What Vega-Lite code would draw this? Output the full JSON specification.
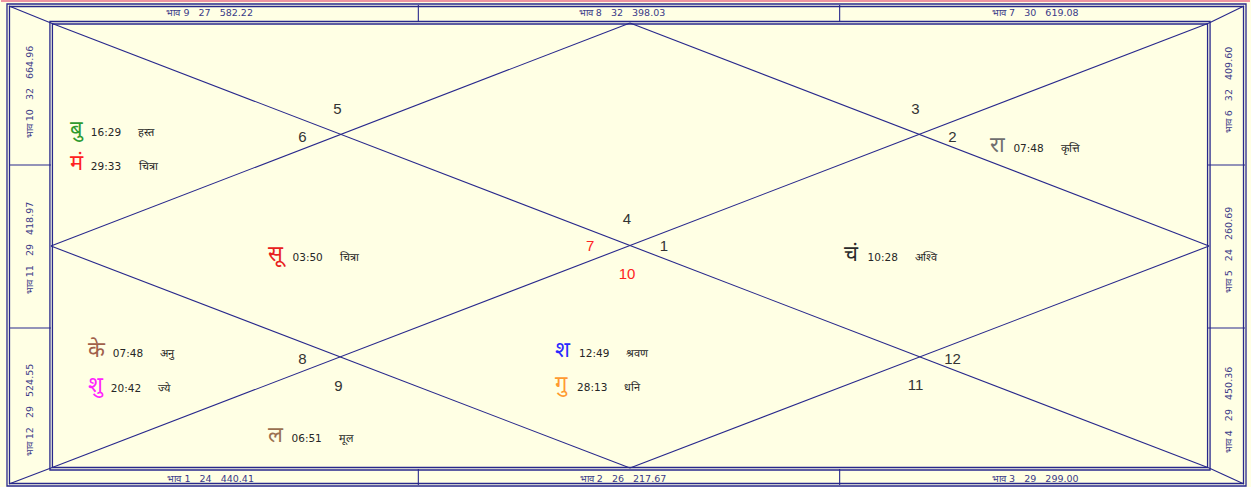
{
  "$schema": "https://vega.github.io/schema/vega-lite/v6.json",
  "width": 1251,
  "height": 487,
  "padding": 0,
  "autosize": {"type": "fit", "contains": "padding"},
  "background": "#FFFFE4",
  "config": {"view": {"stroke": null}, "axis": null},
  "datasets": {
    "frame": [
      {"x": 6, "y": 4, "x2": 1247, "y2": 486},
      {"x": 8.5, "y": 6.5, "x2": 1244.5, "y2": 483.5},
      {"x": 49, "y": 21.5, "x2": 1211, "y2": 470},
      {"x": 51.5, "y": 24, "x2": 1208.5, "y2": 467.5}
    ],
    "topline": [{"x": 0, "y": 1, "x2": 1251, "y2": 1}],
    "segs": [
      {"x": 8, "y": 6, "x2": 50, "y2": 23},
      {"x": 50, "y": 23, "x2": 1210, "y2": 468},
      {"x": 1210, "y": 468, "x2": 1245, "y2": 484},
      {"x": 1245, "y": 6, "x2": 1210, "y2": 23},
      {"x": 1210, "y": 23, "x2": 50, "y2": 468},
      {"x": 50, "y": 468, "x2": 8, "y2": 484},
      {"x": 630, "y": 23, "x2": 1210, "y2": 246},
      {"x": 1210, "y": 246, "x2": 630, "y2": 468},
      {"x": 630, "y": 468, "x2": 50, "y2": 246},
      {"x": 50, "y": 246, "x2": 630, "y2": 23},
      {"x": 418, "y": 5, "x2": 418, "y2": 22},
      {"x": 840, "y": 5, "x2": 840, "y2": 22},
      {"x": 418, "y": 469, "x2": 418, "y2": 485},
      {"x": 840, "y": 469, "x2": 840, "y2": 485},
      {"x": 8, "y": 165, "x2": 50, "y2": 165},
      {"x": 8, "y": 328, "x2": 50, "y2": 328},
      {"x": 1209, "y": 165, "x2": 1246, "y2": 165},
      {"x": 1209, "y": 328, "x2": 1246, "y2": 328}
    ],
    "hstrip": [
      {"label": "भाव 9\u00a0\u00a0\u00a027\u00a0\u00a0\u00a0582.22", "x": 209, "y": 13},
      {"label": "भाव 8\u00a0\u00a0\u00a032\u00a0\u00a0\u00a0398.03", "x": 622, "y": 13},
      {"label": "भाव 7\u00a0\u00a0\u00a030\u00a0\u00a0\u00a0619.08", "x": 1036, "y": 13},
      {"label": "भाव 1\u00a0\u00a0\u00a024\u00a0\u00a0\u00a0440.41", "x": 210, "y": 479},
      {"label": "भाव 2\u00a0\u00a0\u00a026\u00a0\u00a0\u00a0217.67", "x": 623, "y": 479},
      {"label": "भाव 3\u00a0\u00a0\u00a029\u00a0\u00a0\u00a0299.00", "x": 1036, "y": 479}
    ],
    "vstrip": [
      {"label": "भाव 10\u00a0\u00a0\u00a032\u00a0\u00a0\u00a0664.96", "x": 29, "y": 92},
      {"label": "भाव 11\u00a0\u00a0\u00a029\u00a0\u00a0\u00a0418.97", "x": 29, "y": 248},
      {"label": "भाव 12\u00a0\u00a0\u00a029\u00a0\u00a0\u00a0524.55", "x": 29, "y": 410},
      {"label": "भाव 6\u00a0\u00a0\u00a032\u00a0\u00a0\u00a0409.60", "x": 1230, "y": 90},
      {"label": "भाव 5\u00a0\u00a0\u00a024\u00a0\u00a0\u00a0260.69", "x": 1230, "y": 250},
      {"label": "भाव 4\u00a0\u00a0\u00a029\u00a0\u00a0\u00a0450.36", "x": 1230, "y": 410}
    ],
    "houses": [
      {"h": "5", "x": 337, "y": 109, "tone": "plain"},
      {"h": "6", "x": 302, "y": 137, "tone": "plain"},
      {"h": "3", "x": 916, "y": 109, "tone": "plain"},
      {"h": "2", "x": 953, "y": 137, "tone": "plain"},
      {"h": "4", "x": 627, "y": 219, "tone": "plain"},
      {"h": "7", "x": 590, "y": 246, "tone": "red"},
      {"h": "1", "x": 664, "y": 246, "tone": "plain"},
      {"h": "10", "x": 627, "y": 274, "tone": "red"},
      {"h": "8", "x": 302, "y": 359, "tone": "plain"},
      {"h": "9", "x": 338, "y": 386, "tone": "plain"},
      {"h": "12", "x": 953, "y": 359, "tone": "plain"},
      {"h": "11", "x": 916, "y": 385, "tone": "plain"}
    ],
    "planets": [
      {"planet": "Mercury", "glyph": "बु", "deg": "16:29", "nak": "हस्त", "gx": 69, "tx": 90, "nx": 137, "y": 136},
      {"planet": "Mars", "glyph": "मं", "deg": "29:33", "nak": "चित्रा", "gx": 69, "tx": 90, "nx": 138, "y": 170},
      {"planet": "Sun", "glyph": "सू", "deg": "03:50", "nak": "चित्रा", "gx": 267, "tx": 292, "nx": 340, "y": 261},
      {"planet": "Rahu", "glyph": "रा", "deg": "07:48", "nak": "कृत्ति", "gx": 991, "tx": 1014, "nx": 1062, "y": 152},
      {"planet": "Moon", "glyph": "चं", "deg": "10:28", "nak": "अश्वि", "gx": 844, "tx": 868, "nx": 915, "y": 261},
      {"planet": "Ketu", "glyph": "के", "deg": "07:48", "nak": "अनु", "gx": 87, "tx": 112, "nx": 159, "y": 357},
      {"planet": "Venus", "glyph": "शु", "deg": "20:42", "nak": "ज्ये", "gx": 87, "tx": 110, "nx": 157, "y": 392},
      {"planet": "Lagna", "glyph": "ल", "deg": "06:51", "nak": "मूल", "gx": 267, "tx": 291, "nx": 339, "y": 442},
      {"planet": "Saturn", "glyph": "श", "deg": "12:49", "nak": "श्रवण", "gx": 555, "tx": 579, "nx": 626, "y": 357},
      {"planet": "Jupiter", "glyph": "गु", "deg": "28:13", "nak": "धनि", "gx": 555, "tx": 577, "nx": 624, "y": 391}
    ]
  },
  "layer": [
    {
      "data": {"name": "topline"},
      "mark": {"type": "rule", "stroke": "#E8708C", "strokeWidth": 1.5},
      "encoding": {
        "x": {"field": "x", "type": "quantitative", "scale": {"domain": [0, 1251], "nice": false, "zero": false}, "axis": null},
        "y": {"field": "y", "type": "quantitative", "scale": {"domain": [0, 487], "nice": false, "zero": false, "reverse": true}, "axis": null},
        "x2": {"field": "x2"},
        "y2": {"field": "y2"}
      }
    },
    {
      "data": {"name": "frame"},
      "mark": {"type": "rect", "fill": "transparent", "stroke": "#28288C", "strokeWidth": 1.3},
      "encoding": {
        "x": {"field": "x", "type": "quantitative"},
        "y": {"field": "y", "type": "quantitative"},
        "x2": {"field": "x2"},
        "y2": {"field": "y2"}
      }
    },
    {
      "data": {"name": "segs"},
      "mark": {"type": "rule", "stroke": "#28288C", "strokeWidth": 1.1},
      "encoding": {
        "x": {"field": "x", "type": "quantitative"},
        "y": {"field": "y", "type": "quantitative"},
        "x2": {"field": "x2"},
        "y2": {"field": "y2"}
      }
    },
    {
      "data": {"name": "hstrip"},
      "mark": {"type": "text", "font": "DejaVu Sans", "fontSize": 9.5, "fill": "#3A3A88", "align": "center", "baseline": "middle"},
      "encoding": {
        "x": {"field": "x", "type": "quantitative"},
        "y": {"field": "y", "type": "quantitative"},
        "text": {"field": "label"}
      }
    },
    {
      "data": {"name": "vstrip"},
      "mark": {"type": "text", "font": "DejaVu Sans", "fontSize": 9.5, "fill": "#3A3A88", "align": "center", "baseline": "middle", "angle": 270},
      "encoding": {
        "x": {"field": "x", "type": "quantitative"},
        "y": {"field": "y", "type": "quantitative"},
        "text": {"field": "label"}
      }
    },
    {
      "data": {"name": "houses"},
      "mark": {"type": "text", "font": "Liberation Sans", "fontSize": 15, "align": "center", "baseline": "middle"},
      "encoding": {
        "x": {"field": "x", "type": "quantitative"},
        "y": {"field": "y", "type": "quantitative"},
        "text": {"field": "h"},
        "color": {"field": "tone", "type": "nominal", "scale": {"domain": ["plain", "red"], "range": ["#333333", "#FF2222"]}, "legend": null}
      }
    },
    {
      "data": {"name": "planets"},
      "mark": {"type": "text", "fontSize": 22, "align": "left", "baseline": "alphabetic"},
      "encoding": {
        "x": {"field": "gx", "type": "quantitative"},
        "y": {"field": "y", "type": "quantitative"},
        "text": {"field": "glyph"},
        "color": {"field": "planet", "type": "nominal", "scale": {
          "domain": ["Mercury", "Mars", "Sun", "Rahu", "Moon", "Ketu", "Venus", "Lagna", "Saturn", "Jupiter"],
          "range": ["#2E9A2E", "#FF2020", "#E82020", "#6E6E6E", "#2A2A2A", "#A0604A", "#FF22FF", "#9A7050", "#2828FF", "#FF9A30"]}, "legend": null}
      }
    },
    {
      "data": {"name": "planets"},
      "mark": {"type": "text", "font": "DejaVu Sans", "fontSize": 10.5, "fill": "#262626", "align": "left", "baseline": "alphabetic"},
      "encoding": {
        "x": {"field": "tx", "type": "quantitative"},
        "y": {"field": "y", "type": "quantitative"},
        "text": {"field": "deg"}
      }
    },
    {
      "data": {"name": "planets"},
      "mark": {"type": "text", "fontSize": 11, "fontWeight": 500, "fill": "#1E1E1E", "align": "left", "baseline": "alphabetic"},
      "encoding": {
        "x": {"field": "nx", "type": "quantitative"},
        "y": {"field": "y", "type": "quantitative"},
        "text": {"field": "nak"}
      }
    }
  ],
  "resolve": {"scale": {"color": "independent"}}
}
